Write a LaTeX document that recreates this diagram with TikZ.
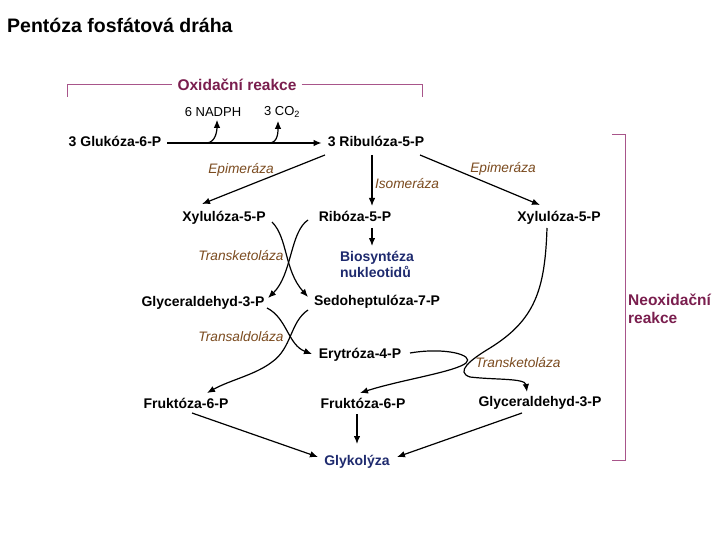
\documentclass[tikz,border=0pt]{standalone}
\usepackage{fontspec}
\setmainfont{Liberation Sans}
\usetikzlibrary{arrows.meta}
\definecolor{oxcol}{HTML}{7A1E4E}
\definecolor{brcol}{HTML}{A8558A}
\definecolor{enzcol}{HTML}{7A4A1E}
\definecolor{navycol}{HTML}{1E2A6E}
\begin{document}
\begin{tikzpicture}[x=1pt,y=-1pt,
  lbl/.style={font=\fontsize{14}{16}\selectfont\bfseries, inner sep=1pt, text height=10.5pt, text depth=3pt},
  enzl/.style={font=\fontsize{13.7}{16}\selectfont\itshape, text=enzcol, inner sep=1pt},
  fin/.style={lbl, text=navycol},
  arr/.style={-{Latex[length=8pt,width=6.5pt]}, line width=1.2pt},
  brk/.style={draw=brcol, line width=1pt},
  brtext/.style={font=\fontsize{15.5}{18}\selectfont\bfseries, text=oxcol}]
\useasboundingbox (0,0) rectangle (720,540);

% title
\node[anchor=west, font=\fontsize{19.5}{22}\selectfont\bfseries, inner sep=0pt] (title) at (7,25) {Pentóza fosfátová dráha};

% oxidative bracket
\node[brtext, inner sep=5pt] (ox) at (237,85) {Oxidační reakce};
\draw[brk] (67,97) |- (ox.west);
\draw[brk] (ox.east) -| (422,97);

\node[font=\fontsize{13}{15}\selectfont, inner sep=1pt] (nadph) at (213,112) {6 NADPH};
\node[font=\fontsize{13}{15}\selectfont, inner sep=1pt] (co2) at (282,112) {3 CO\textsubscript{2}};

% metabolites
\node[lbl] (glu) at (115,143) {3 Glukóza-6-P};
\node[lbl] (rib) at (376,143) {3 Ribulóza-5-P};
\node[lbl] (xyla) at (224,218) {Xylulóza-5-P};
\node[lbl] (ribo) at (355,218) {Ribóza-5-P};
\node[lbl] (xylb) at (559,218) {Xylulóza-5-P};
\node[fin, align=left, text height=, text depth=] (bio) at (377,264) {Biosyntéza\\nukleotidů};
\node[lbl] (glya) at (203,303) {Glyceraldehyd-3-P};
\node[lbl] (sedo) at (377,302) {Sedoheptulóza-7-P};
\node[lbl] (ery) at (360,355) {Erytróza-4-P};
\node[lbl] (frua) at (186,405) {Fruktóza-6-P};
\node[lbl] (frub) at (363,405) {Fruktóza-6-P};
\node[lbl] (glyb) at (540,403) {Glyceraldehyd-3-P};
\node[fin] (glyk) at (357,462) {Glykolýza};

% enzymes
\node[enzl] (epia) at (241,170) {Epimeráza};
\node[enzl] (iso) at (407,184) {Isomeráza};
\node[enzl] (epib) at (503,169) {Epimeráza};
\node[enzl] (tka) at (241,256) {Transketoláza};
\node[enzl] (ta) at (241,337) {Transaldoláza};
\node[enzl] (tkb) at (518,363) {Transketoláza};

% non-oxidative bracket
\node[brtext, anchor=west, align=left, inner sep=0pt] (neo) at (628,309) {Neoxidační\\reakce};
\draw[brk] (612,135) -| (625,460) -- (612,460);

% oxidative arrow
\draw[arr] ([xshift=5]glu.east) -- ([xshift=-5]rib.west)
  coordinate[pos=0.25] (ba) coordinate[pos=0.66] (bb);
\draw[arr] (ba) to[out=0,in=-90] ([shift={(4,2)}]nadph.south);
\draw[arr] (bb) to[out=0,in=-90] ([shift={(-4,2)}]co2.south);

% from ribulose
\draw[arr] ([shift={(-51,12)}]rib.center) -- ([shift={(-22,-14)}]xyla.center);
\draw[arr] ([shift={(-4,12)}]rib.center) -- ([shift={(17,-12)}]ribo.center);
\draw[arr] ([shift={(44,12)}]rib.center) -- ([shift={(-19,-13)}]xylb.center);
\draw[arr] ([shift={(17,10)}]ribo.center) -- ([shift={(-5,-18)}]bio.center);

% transketolase cross
\draw[arr] ([shift={(48,4)}]xyla.center) .. controls +(16,16) and +(-24,-27) .. ([shift={(-69,-5)}]sedo.center);
\draw[arr] ([shift={(-47,2)}]ribo.center) .. controls +(-18,12) and +(24,-23) .. ([shift={(65,-5)}]glya.center);

% transaldolase cross
\draw[arr] ([shift={(64,5)}]glya.center) .. controls +(20,10) and +(-24,-9) .. ([shift={(-48,-1)}]ery.center);
\draw[arr] ([shift={(-69,8)}]sedo.center) .. controls (290,322) and (292,348) .. (272,362)
  .. controls (255,375) and (230,380) .. ([shift={(21,-12)}]frua.center);

% second transketolase
\draw[arr] ([shift={(50,-2)}]ery.center) .. controls (445,347) and (475,355) .. (466,363)
  .. controls (455,372) and (400,380) .. ([shift={(-3,-12)}]frub.center);
\draw[arr] ([shift={(-12,10)}]xylb.center) .. controls (545,290) and (535,320) .. (490,348)
  .. controls (470,360) and (455,372) .. (470,377)
  .. controls (495,380) and (525,378) .. ([shift={(-13,-11)}]glyb.center);

% to glycolysis
\draw[arr] ([shift={(6,8)}]frua.center) -- ([shift={(-39,-5)}]glyk.center);
\draw[arr] ([shift={(-6,9)}]frub.center) -- ([shift={(0,-18)}]glyk.center);
\draw[arr] ([shift={(-18,10)}]glyb.center) -- ([shift={(40,-5)}]glyk.center);
\end{tikzpicture}
\end{document}
